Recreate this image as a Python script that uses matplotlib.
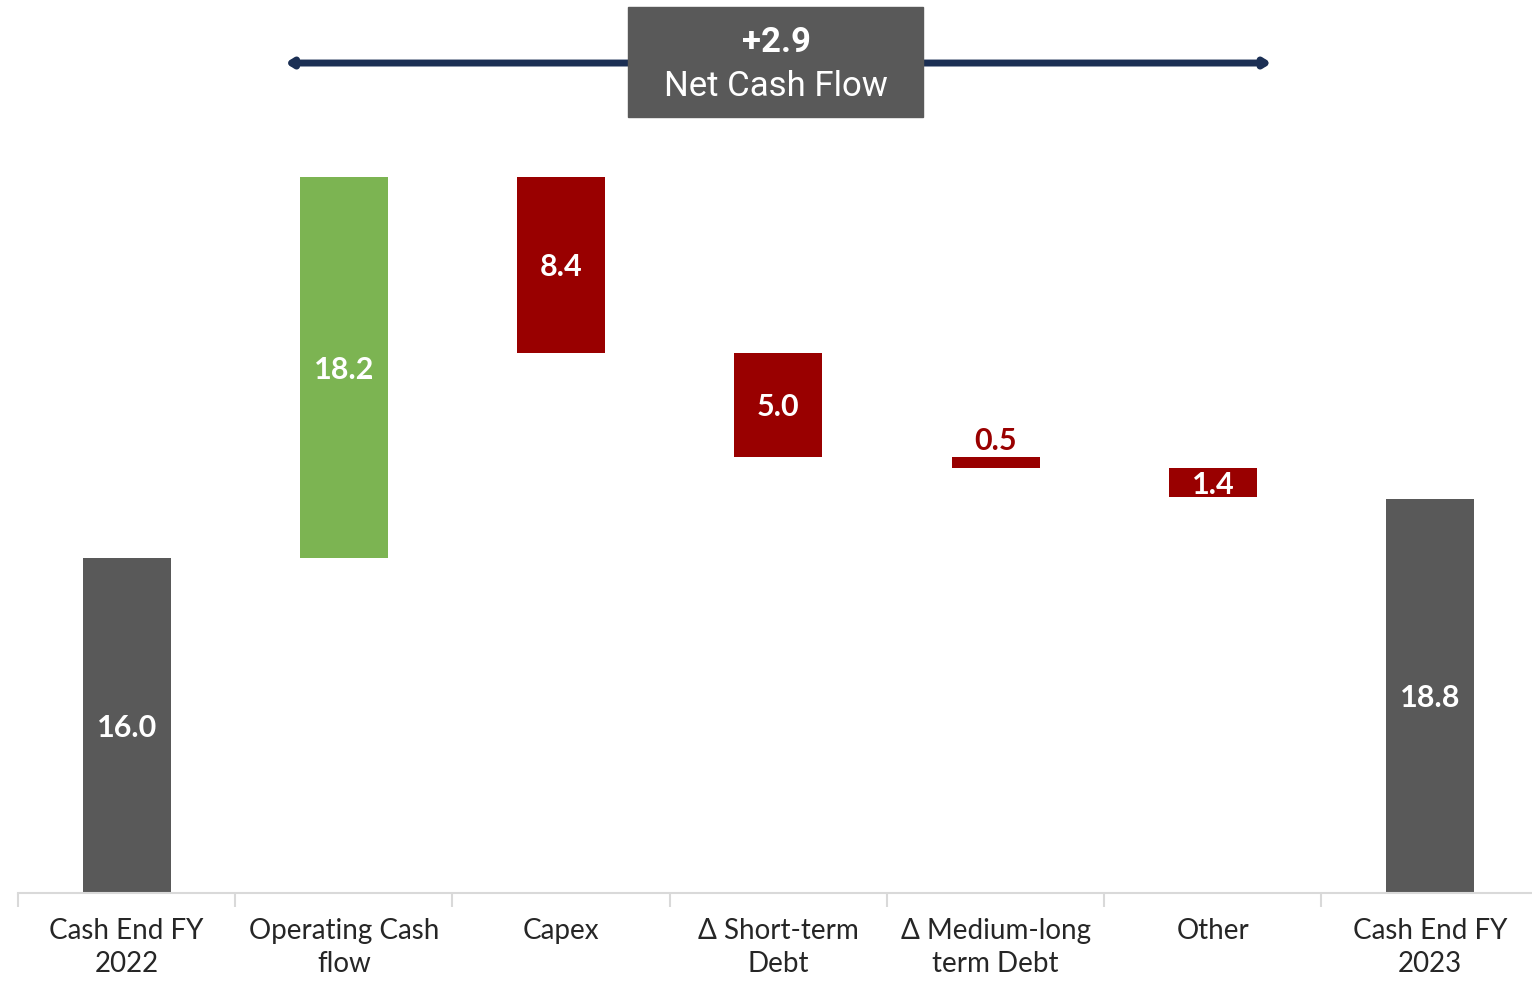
import matplotlib.pyplot as plt
from matplotlib.patches import Rectangle

# Valores del puente de caja (bn)
categories = ['Cash End FY\n2022', 'Operating Cash\nflow', 'Capex', 'Δ Short-term\nDebt',
              'Δ Medium-long\nterm Debt', 'Other', 'Cash End FY\n2023']
values = [16.0, 18.2, -8.4, -5.0, -0.5, -1.4, 18.8]
kinds = ['total', 'delta', 'delta', 'delta', 'delta', 'delta', 'total']
value_labels = ['16.0', '18.2', '8.4', '5.0', '0.5', '1.4', '18.8']
net_cash_flow = '+2.9'

GREY = '#595959'
GREEN = '#7cb452'
RED = '#990000'
NAVY = '#1b2f54'
FONT = ['Lato', 'DejaVu Sans']

fig = plt.figure(figsize=(15.32, 9.82), dpi=100)
ax = fig.add_axes([18 / 1532, 89 / 982, 1520.7 / 1532, 893 / 982])

# Calcular bases y alturas de las barras
bottoms, heights, colors = [], [], []
level = 0.0
for v, k in zip(values, kinds):
    if k == 'total':
        bottoms.append(0)
        heights.append(v)
        colors.append(GREY)
        level = v
    else:
        if v >= 0:
            bottoms.append(level)
            colors.append(GREEN)
        else:
            bottoms.append(level + v)
            colors.append(RED)
        heights.append(abs(v))
        level += v

x = list(range(len(categories)))
ax.bar(x, heights, bottom=bottoms, width=0.405, color=colors, zorder=2)

# Etiquetas de valores
for i, (b, h, lab) in enumerate(zip(bottoms, heights, value_labels)):
    if h < 1.0:
        ax.text(i, b + h + 0.12, lab, ha='center', va='bottom', color=RED,
                fontsize=22, fontweight='bold', family=FONT)
    else:
        ax.text(i, b + h / 2 - 0.1, lab, ha='center', va='center', color='white',
                fontsize=22, fontweight='bold', family=FONT)

# Flecha y caja de flujo neto
ax.annotate('', xy=(5.27, 39.64), xytext=(0.73, 39.64),
            arrowprops=dict(arrowstyle='<|-|>,head_length=0.35,head_width=0.22',
                            lw=5, color=NAVY, shrinkA=0, shrinkB=0), zorder=3)
ax.add_patch(Rectangle((2.31, 37.06), 1.357, 5.25, color=GREY, zorder=4, clip_on=False))
ax.text(2.99, 40.6, net_cash_flow, ha='center', va='center', color='white',
        fontsize=25, fontweight='bold', family=['Roboto', 'DejaVu Sans'], zorder=5)
ax.text(2.99, 38.5, 'Net Cash Flow', ha='center', va='center', color='white',
        fontsize=25, family=['Roboto', 'DejaVu Sans'], zorder=5)

ax.set_xlim(-0.5, 6.5)
ax.set_ylim(0, 42.65)
ax.set_xticks(x)
ax.set_xticklabels(categories, fontsize=20, family=FONT, color='#262626', linespacing=1.35)
ax.set_xticks([i - 0.5 for i in range(7)], minor=True)
ax.tick_params(axis='x', which='major', length=0, pad=18)
ax.tick_params(axis='x', which='minor', length=10, color='#d9d9d9', width=1.5)
ax.set_yticks([])
for s in ['top', 'right', 'left']:
    ax.spines[s].set_visible(False)
ax.spines['bottom'].set_color('#d9d9d9')
ax.spines['bottom'].set_linewidth(1.5)

fig.savefig('out.png', dpi=100)
